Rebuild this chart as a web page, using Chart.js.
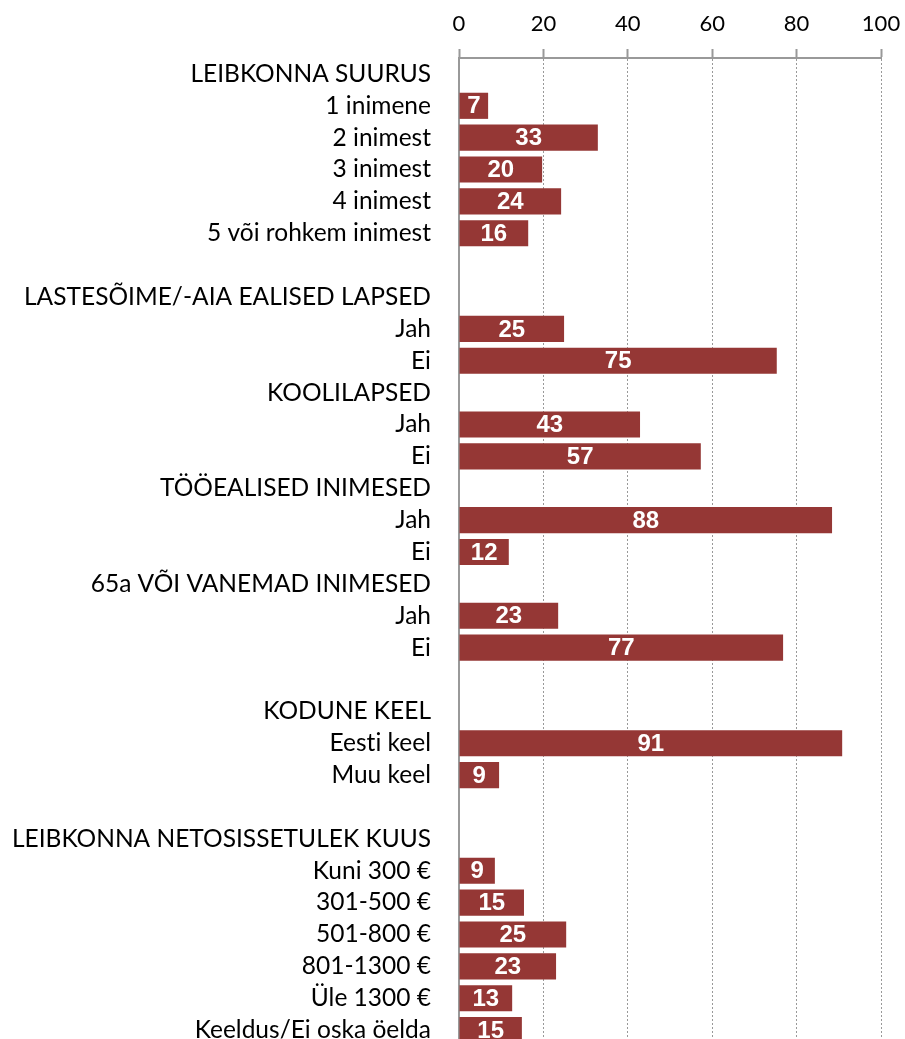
<!DOCTYPE html>
<html>
<head>
<meta charset="utf-8">
<script src="https://cdn.jsdelivr.net/npm/chart.js@4/dist/chart.umd.min.js"></script>
<style>
  html, body { margin: 0; padding: 0; background: #fff; overflow: hidden; }
  canvas { display: block; }
</style>
</head>
<body>
<canvas id="c" width="905" height="1046"></canvas>
<script>
// Category rows (section headers and blank spacer rows have no bar)
const categories = [
  'LEIBKONNA SUURUS', '1 inimene', '2 inimest', '3 inimest', '4 inimest', '5 või rohkem inimest',
  '',
  'LASTESÕIME/-AIA EALISED LAPSED', 'Jah', 'Ei',
  'KOOLILAPSED', 'Jah', 'Ei',
  'TÖÖEALISED INIMESED', 'Jah', 'Ei',
  '65a VÕI VANEMAD INIMESED', 'Jah', 'Ei',
  '',
  'KODUNE KEEL', 'Eesti keel', 'Muu keel',
  '',
  'LEIBKONNA NETOSISSETULEK KUUS', 'Kuni 300 €', '301-500 €', '501-800 €', '801-1300 €', 'Üle 1300 €', 'Keeldus/Ei oska öelda'
];
// Percent values (null = header / spacer row)
const values = [
  null, 6.9, 32.9, 19.7, 24.2, 16.4,
  null,
  null, 24.9, 75.3,
  null, 42.9, 57.3,
  null, 88.4, 11.8,
  null, 23.5, 76.8,
  null,
  null, 90.8, 9.5,
  null,
  null, 8.5, 15.4, 25.4, 23.0, 12.6, 14.9
];
// Data labels printed on bars
const valueLabels = [
  '', '7', '33', '20', '24', '16',
  '',
  '', '25', '75',
  '', '43', '57',
  '', '88', '12',
  '', '23', '77',
  '',
  '', '91', '9',
  '',
  '', '9', '15', '25', '23', '13', '15'
];
const xTicks = [0, 20, 40, 60, 80, 100];

// category axis uses row indices so repeated labels (Jah / Ei) stay separate rows
const rowIndex = categories.map((_, i) => i);

const barLabelPlugin = {
  id: 'barLabels',
  beforeDraw(chart) {
    // avoid "ti" ligature so text looks like the reference
    chart.ctx.letterSpacing = '0.01px';
  },
  afterDatasetsDraw(chart) {
    const ctx = chart.ctx;
    const meta = chart.getDatasetMeta(0);
    ctx.save();
    ctx.font = 'bold 24px "Liberation Sans", Arial, sans-serif';
    ctx.fillStyle = '#ffffff';
    ctx.textAlign = 'center';
    ctx.textBaseline = 'middle';
    meta.data.forEach((el, i) => {
      const txt = valueLabels[i];
      if (!txt || values[i] == null) return;
      const p = el.getProps(['x', 'y', 'base'], true);
      ctx.fillText(txt, (p.x + p.base) / 2, p.y + 1);
    });
    ctx.restore();
  }
};

const GRAY = '#999999';
new Chart(document.getElementById('c'), {
  type: 'bar',
  data: {
    labels: rowIndex,
    datasets: [{
      data: values,
      backgroundColor: '#953735',
      borderWidth: 0,
      barPercentage: 0.82,
      categoryPercentage: 1.0
    }]
  },
  options: {
    indexAxis: 'y',
    responsive: false,
    animation: false,
    layout: { padding: { left: 0, right: 24, top: 0, bottom: 0 } },
    plugins: { legend: { display: false }, tooltip: { enabled: false } },
    scales: {
      x: {
        position: 'top',
        min: 0, max: 100,
        afterBuildTicks: s => { s.ticks = xTicks.map(v => ({ value: v })); },
        afterFit: s => { s.height = 58; s.paddingLeft = 0; s.paddingRight = 0; },
        ticks: {
          color: '#000',
          font: { family: 'Lato', size: 22 },
          padding: 12,
          maxRotation: 0
        },
        grid: {
          color: c => (c.tick && c.tick.value === 0) ? 'rgba(0,0,0,0)' : GRAY,
          lineWidth: 1,
          drawTicks: true,
          tickLength: 9,
          tickColor: GRAY,
          tickWidth: 2,
          tickBorderDash: []
        },
        border: { display: true, color: GRAY, width: 2, dash: [2, 2] }
      },
      y: {
        afterFit: s => { s.width = 459; s.paddingTop = 0; s.paddingBottom = 0; },
        ticks: {
          color: '#000',
          font: { family: 'Lato', size: 24.5 },
          padding: 28,
          autoSkip: false,
          callback: (v, i) => categories[i]
        },
        grid: { display: false, drawTicks: false },
        border: { display: true, color: GRAY, width: 2 }
      }
    }
  },
  plugins: [barLabelPlugin]
});
</script>
</body>
</html>
